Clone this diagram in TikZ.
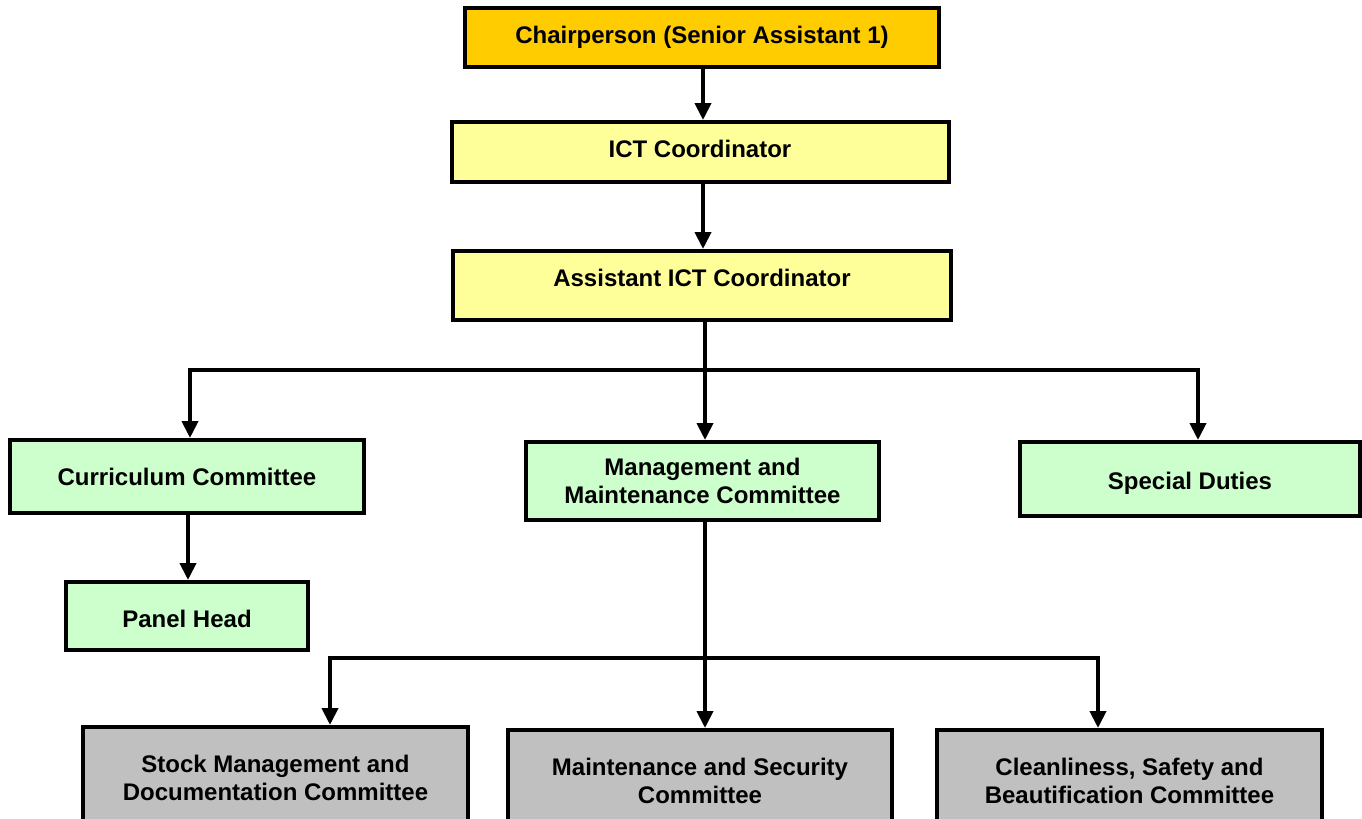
\documentclass[tikz,border=0pt]{standalone}
\usepackage{fontspec}
\setmainfont{Liberation Sans}
\usetikzlibrary{arrows.meta,positioning}

\definecolor{chairorange}{HTML}{FFCC00}
\definecolor{coordyellow}{HTML}{FFFF99}
\definecolor{commgreen}{HTML}{CCFFCC}
\definecolor{subgray}{HTML}{C0C0C0}

\tikzset{
  unitbox/.style={draw=black,line width=2pt,rectangle,align=center,inner sep=0pt,
    font=\fontsize{12}{14}\selectfont\bfseries},
  link/.style={line width=2pt,-{Triangle[length=8.5pt,width=8pt]}}
}

\begin{document}
\begin{tikzpicture}[x=0.5pt,y=-0.5pt]
      \clip (0,0) rectangle (1362,819);
      \useasboundingbox (0,0) rectangle (1362,819);
      % top of the chart
      \node[unitbox,fill=chairorange,minimum width=237pt,minimum height=29.5pt] (chair) at (702,37.5) {Chairperson (Senior Assistant 1)};
      \node[unitbox,fill=coordyellow,minimum width=248.5pt,minimum height=30pt,text depth=3pt] (ict) at (700,152) {ICT Coordinator};
      \node[unitbox,fill=coordyellow,minimum width=249pt,minimum height=34.5pt,text depth=8pt] (asst) at (702,285.5) {Assistant ICT Coordinator};
      % committees
      \node[unitbox,fill=commgreen,minimum width=177pt,minimum height=36.5pt] (curr) at (187,476.5) {Curriculum Committee};
      \node[unitbox,fill=commgreen,minimum width=176.5pt,minimum height=39pt] (mgmt) at (702.5,481) {Management and\\Maintenance Committee};
      \node[unitbox,fill=commgreen,minimum width=170pt,minimum height=37pt,text height=12.8pt] (spec) at (1190,479) {Special Duties};
      \node[unitbox,fill=commgreen,minimum width=121pt,minimum height=34pt,text height=11.8pt] (panel) at (187,616) {Panel Head};
      % sub committees
      \node[unitbox,fill=subgray,minimum width=192.5pt,minimum height=51pt] (stock) at (275.5,778) {Stock Management and\\Documentation Committee};
      \node[unitbox,fill=subgray,minimum width=192pt,minimum height=51pt] (maint) at (700,781) {Maintenance and Security\\Committee};
      \node[unitbox,fill=subgray,minimum width=192.5pt,minimum height=51pt] (clean) at (1129.5,781) {Cleanliness, Safety and\\Beautification Committee};

      \coordinate (bus1) at (705,370);
      \coordinate (bus2) at (705,658);

      \draw[link] (chair.south -| 703,0) -- (ict.north -| 703,0);
      \draw[link] (ict.south -| 703,0) -- (asst.north -| 703,0);
      \draw[link] (asst.south -| bus1) -- (mgmt.north -| bus1);
      \draw[link] (bus1) -| ([xshift=1.5pt]curr.north);
      \draw[link] (bus1) -| ([xshift=4pt]spec.north);
      \draw[link] ([xshift=0.5pt]curr.south) -- ([xshift=0.5pt]panel.north);
      \draw[link] (mgmt.south -| bus2) -- (maint.north -| bus2);
      \draw[link] (bus2) -| ([xshift=27.25pt]stock.north);
      \draw[link] (bus2) -| ([xshift=-15.75pt]clean.north);
\end{tikzpicture}
\end{document}
